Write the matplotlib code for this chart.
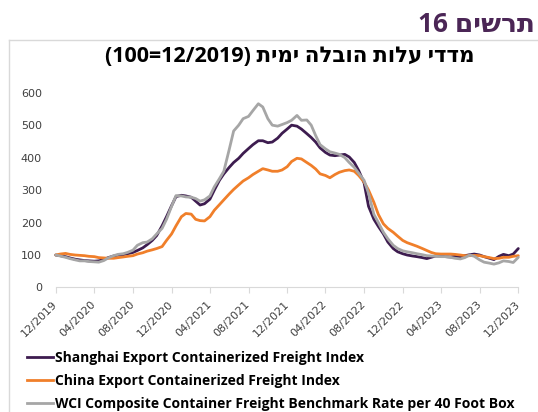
import numpy as np
import pandas as pd
import matplotlib
matplotlib.use("Agg")
import matplotlib.pyplot as plt
from matplotlib.lines import Line2D

# semi-monthly points, 12/2019 .. 12/2023 (index 12/2019 = 100)
dates = pd.date_range("2019-12-01", periods=97, freq="SMS")

scfi = [100, 98, 95, 91, 87, 85, 83, 82, 81, 82,
        86, 92, 97, 100, 101, 104, 108, 114, 122, 132,
        145, 160, 190, 218, 252, 280, 284, 282, 278, 266,
        254, 258, 272, 300, 330, 350, 370, 385, 398, 413,
        428, 440, 452, 452, 446, 448, 460, 475, 488, 500,
        497, 488, 474, 462, 448, 430, 416, 408, 406, 408,
        410, 402, 385, 360, 322, 250, 210, 188, 165, 140,
        120, 110, 104, 100, 97, 95, 92, 89, 93, 97,
        97, 95, 94, 96, 95, 98, 101, 103, 100, 95,
        90, 86, 96, 102, 98, 103, 120]

ccfi = [100, 103, 105, 102, 100, 99, 98, 96, 95, 92,
        91, 90, 90, 92, 94, 96, 98, 103, 107, 112,
        116, 120, 126, 145, 165, 190, 218, 228, 226, 210,
        206, 205, 218, 238, 255, 270, 288, 302, 316, 328,
        338, 348, 358, 366, 362, 358, 358, 362, 372, 388,
        398, 396, 385, 376, 365, 350, 345, 338, 348, 355,
        360, 362, 358, 345, 325, 300, 262, 225, 196, 182,
        170, 158, 145, 138, 132, 127, 120, 114, 108, 104,
        103, 103, 103, 102, 100, 98, 98, 99, 98, 95,
        92, 89, 90, 93, 93, 96, 98]

wci = [100, 97, 93, 89, 85, 82, 82, 80, 79, 78,
       83, 91, 98, 102, 104, 108, 115, 130, 138, 140,
       150, 165, 182, 210, 250, 283, 282, 279, 278, 274,
       266, 270, 282, 310, 335, 358, 425, 482, 500, 520,
       527, 545, 566, 556, 520, 500, 497, 502, 508, 515,
       530, 515, 516, 500, 468, 440, 427, 418, 414, 410,
       400, 385, 370, 352, 330, 290, 225, 200, 170, 150,
       130, 120, 113, 110, 107, 104, 101, 98, 97, 96,
       95, 95, 93, 90, 88, 92, 100, 96, 85, 78,
       75, 72, 76, 82, 80, 77, 93]

labels = ["Shanghai Export Containerized Freight Index",
          "China Export Containerized Freight Index",
          "WCI Composite Container Freight Benchmark Rate per 40 Foot Box"]
colors = ["#3d1c4f", "#f07f2a", "#a6a6a6"]

tick_dates = pd.date_range("2019-12-01", "2023-12-01", freq="4MS")
tick_labels = [d.strftime("%m/%Y") for d in tick_dates]

heb = ["Open Sans", "DejaVu Sans"]

fig = plt.figure(figsize=(5.38, 4.12), dpi=100)
ax = fig.add_axes([0.1035, 0.3022, 0.8599, 0.4728])

for vals, c in zip([scfi, ccfi, wci], colors):
    ax.plot(dates, vals, color=c, lw=2.0, clip_on=False, solid_capstyle="round")

ax.set_xlim(dates[0], dates[-1])
ax.set_ylim(0, 600)
ax.set_yticks(range(0, 601, 100))
ax.set_xticks(tick_dates)
ax.set_xticklabels(tick_labels, rotation=45, ha="right", va="center",
                   rotation_mode="anchor", fontsize=8, color="#404040")
ax.tick_params(axis="x", length=4, color="#d9d9d9", pad=7)
ax.tick_params(axis="y", length=0, pad=10, labelsize=8, labelcolor="#404040")
for s in ["left", "top", "right"]:
    ax.spines[s].set_visible(False)
ax.spines["bottom"].set_color("#d9d9d9")
ax.spines["bottom"].set_linewidth(0.8)

# frame around the chart
fig.add_artist(Line2D([9 / 538, 1], [1 - 40 / 412] * 2, color="#d9d9d9", lw=1))
fig.add_artist(Line2D([9 / 538] * 2, [0, 1 - 40 / 412], color="#d9d9d9", lw=1))

fig.text(535 / 538, 1 - 24 / 412, "16 םישרת", ha="right", va="center",
         fontsize=19, fontweight="bold", color="#4b2656", family=heb)
fig.text(290 / 538, 1 - 57 / 412, "(100=12/2019) תימי הלבוה תולע ידדמ",
         ha="center", va="center", fontsize=15.5, fontweight="bold",
         color="black", family=heb)

handles = [Line2D([], [], color=c, lw=2.0) for c in colors]
fig.legend(handles, labels, loc="upper left",
           bbox_to_anchor=(27 / 538, 1 - 351 / 412), frameon=False,
           borderpad=0, borderaxespad=0, handlelength=1.85, handletextpad=0.15,
           labelspacing=0.66, prop={"family": "Open Sans", "weight": "bold", "size": 10})

fig.savefig("out.png", dpi=100)
